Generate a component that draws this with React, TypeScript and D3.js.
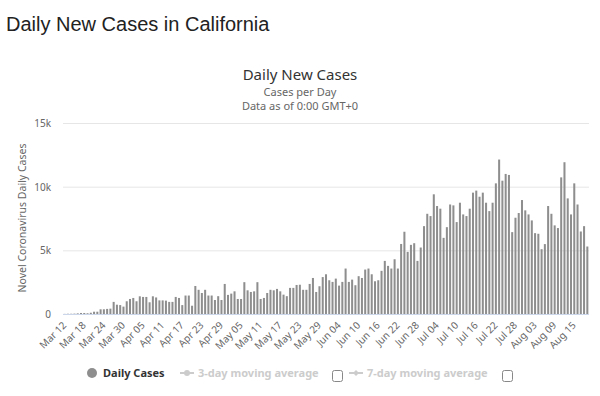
import * as d3 from "d3";

// daily new cases, California, Mar 12 - Aug 19
const firstDay = new Date(2020, 2, 12);
const lastDay = new Date(2020, 7, 19);
const days = d3.timeDay.range(firstDay, d3.timeDay.offset(lastDay, 1));

const dailyCases = [
  10, 20, 20, 30, 50, 80, 80, 60, 100, 180, 180, 370, 370, 400, 420,
  950, 730, 700, 580, 1000, 1180, 1260, 1000, 1390, 1340, 1340, 920, 1390, 1300, 1070, 1070, 1050, 950, 950, 1340, 1260,
  700, 1450, 1450, 650, 2200, 1900, 1650, 1900, 1450, 1450, 1100, 1400, 1100, 2360, 1500, 1600, 1780, 1180, 1180, 2500,
  1860, 1730, 1780, 2500, 1180, 1260, 1650, 1900, 1860, 1970, 1780, 1520, 1400, 2050, 2050, 2280, 2300, 1900, 1900,
  2360, 2830, 1730, 2180,
  2900, 3120, 2650, 2520, 2780, 2230, 2520, 3570, 2520, 2700, 2260, 2970, 2830, 3490, 3570, 3120, 2570, 2650, 3390,
  4170, 3780, 3570, 4300, 3570, 5500, 6460, 4880, 5430, 5560, 4170, 5220, 6900, 7870, 7690, 9400, 8480, 8270, 5980,
  6820, 8600,
  8530, 7220, 8740, 7820, 7690, 8270, 9530, 9690, 9210, 9530, 8740, 8080, 8740, 10260, 12130, 10470, 11000, 10920,
  6430, 7560, 7930, 8950, 8140, 7820, 7350, 6350, 6300, 5090, 5490, 8480, 7870, 6960, 6750, 10730, 11920, 9080, 7820,
  10260, 8600, 6480, 6900, 5300,
];

const yTicks = [0, 5000, 10000, 15000];
const labelEvery = 6;

const chartFont = "'Noto Sans', 'DejaVu Sans', sans-serif";

export default function App() {
  const width = 600;
  const height = 396;
  const left = 63;
  const right = 589;
  const top = 123;
  const bottom = 314;

  const fmt = d3.timeFormat("%b %d");
  const x = d3
    .scaleBand<Date>()
    .domain(days)
    .range([left, right])
    .paddingInner(0.38)
    .paddingOuter(0.2);
  const y = d3.scaleLinear().domain([0, 15000]).range([bottom, top]);
  const step = x.step();

  return (
    <svg
      width={width}
      height={height}
      style={{ position: "absolute", left: 0, top: 0, background: "#fff" }}
    >
      <text x={6} y={31} fontFamily="'Liberation Sans', Arial, sans-serif" fontSize={20} fill="#222">
        Daily New Cases in California
      </text>

      <text x={300} y={80} textAnchor="middle" fontFamily={chartFont} fontSize={15} fill="#333">
        Daily New Cases
      </text>
      <text x={300} y={96} textAnchor="middle" fontFamily={chartFont} fontSize={11} fill="#666">
        Cases per Day
      </text>
      <text x={300} y={110} textAnchor="middle" fontFamily={chartFont} fontSize={11} fill="#666">
        Data as of 0:00 GMT+0
      </text>

      {/* grid + y labels */}
      {yTicks.map((t) => (
        <g key={t}>
          {t > 0 && (
            <line x1={left} x2={right} y1={y(t) + 0.5} y2={y(t) + 0.5} stroke="#e6e6e6" />
          )}
          <text
            x={51}
            y={y(t) + 4}
            textAnchor="end"
            fontFamily={chartFont}
            fontSize={10}
            fill="#666"
          >
            {t === 0 ? "0" : t / 1000 + "k"}
          </text>
        </g>
      ))}
      <text
        transform={`translate(26,218) rotate(-90)`}
        textAnchor="middle"
        fontFamily={chartFont}
        fontSize={10.5}
        fill="#666"
      >
        Novel Coronavirus Daily Cases
      </text>

      {/* bars */}
      <g fill="#8e8e8e">
        {days.map((d, i) => (
          <rect
            key={i}
            x={x(d)}
            y={y(dailyCases[i])}
            width={x.bandwidth()}
            height={bottom - y(dailyCases[i])}
          />
        ))}
      </g>
      <line x1={left} x2={right} y1={bottom + 0.5} y2={bottom + 0.5} stroke="#ccd6eb" />

      {/* x labels */}
      {days.map((d, i) =>
        i % labelEvery === 0 ? (
          <text
            key={i}
            transform={`translate(${(x(d) ?? 0) + x.bandwidth() / 2 + 2.4},326) rotate(-45)`}
            textAnchor="end"
            fontFamily={chartFont}
            fontSize={10}
            fill="#666"
          >
            {fmt(d)}
          </text>
        ) : null
      )}

      {/* legend */}
      <g fontFamily={chartFont} fontSize={11} fontWeight="bold">
        <circle cx={92} cy={373} r={5} fill="#8e8e8e" />
        <text x={103} y={377} fill="#333">
          Daily Cases
        </text>

        <line x1={180} x2={194} y1={373} y2={373} stroke="#ccc" strokeWidth={2} />
        <circle cx={187} cy={373} r={3} fill="#ccc" />
        <text x={198} y={377} fill="#ccc">
          3-day moving average
        </text>
        <rect x={332.5} y={370.5} width={10} height={11} rx={2} fill="#fff" stroke="#888" />

        <line x1={349} x2={363} y1={373} y2={373} stroke="#ccc" strokeWidth={2} />
        <path d="M356,370 L359,373 L356,376 L353,373 Z" fill="#ccc" />
        <text x={367} y={377} fill="#ccc">
          7-day moving average
        </text>
        <rect x={502.5} y={370.5} width={10} height={11} rx={2} fill="#fff" stroke="#888" />
      </g>
      {step < 0 ? null : null}
    </svg>
  );
}
